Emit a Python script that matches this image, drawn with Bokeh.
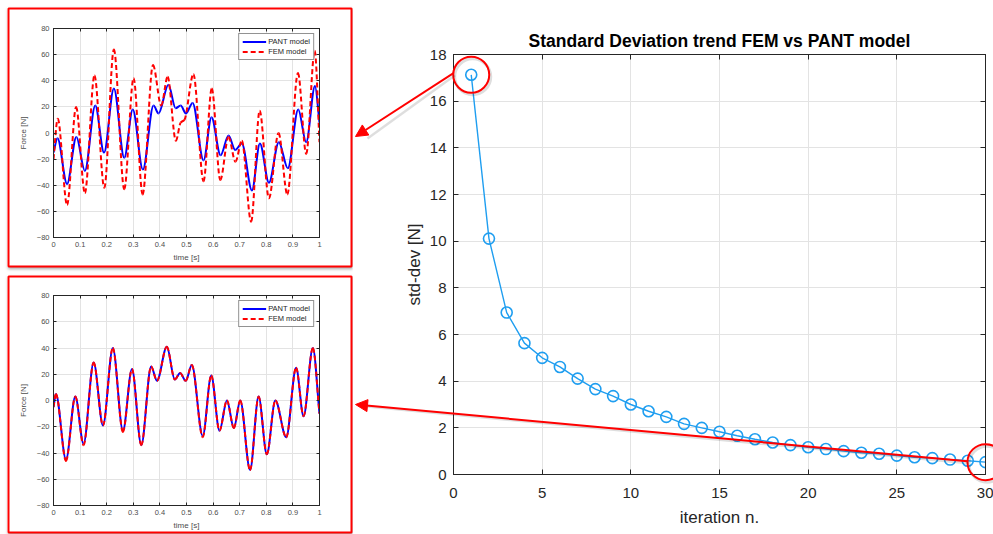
import numpy as np
from bokeh.plotting import figure
from bokeh.models import (LinearAxis, FixedTicker, Range1d, Arrow, NormalHead,
                          ColumnDataSource, Spacer, GridBox)
from bokeh.layouts import row, column
from bokeh.embed import file_html
from bokeh.resources import INLINE

FONT = "Liberation Sans"

# ---------------- data ----------------
iterations = list(range(1, 31))
std_dev = [17.13, 10.11, 6.94, 5.63, 5.00, 4.61, 4.11, 3.66, 3.36, 3.00,
           2.71, 2.47, 2.17, 2.00, 1.83, 1.66, 1.51, 1.37, 1.26, 1.17,
           1.09, 1.00, 0.93, 0.89, 0.81, 0.74, 0.70, 0.64, 0.59, 0.53]
iter_ticks = [0, 5, 10, 15, 20, 25, 30]
std_ticks = [0, 2, 4, 6, 8, 10, 12, 14, 16, 18]

time_ticks = [0.0, 0.1, 0.2, 0.3, 0.4, 0.5, 0.6, 0.7, 0.8, 0.9, 1.0]
time_tick_labels = ["0", "0.1", "0.2", "0.3", "0.4", "0.5", "0.6", "0.7", "0.8", "0.9", "1"]
force_ticks = [-80, -60, -40, -20, 0, 20, 40, 60, 80]

# top panel: turning points
top_t_pant = [0.000, 0.015, 0.051, 0.086, 0.118, 0.157, 0.190, 0.227, 0.266, 0.298,
              0.336, 0.376, 0.395, 0.432, 0.459, 0.478, 0.498, 0.523, 0.564, 0.594,
              0.628, 0.658, 0.683, 0.708, 0.746, 0.776, 0.810, 0.847, 0.881, 0.920,
              0.950, 0.983, 1.000]
top_f_pant = [-15, -4, -39, -3, -29, 21, -15, 34, -19, 18,
              -28, 21, 15, 37, 19, 21, 15, 23, -21, 12,
              -17, -2, -13, -8, -44, -8, -38, -7, -27, 18,
              -7, 36, 8]
top_t_fem = [0.000, 0.016, 0.051, 0.085, 0.118, 0.154, 0.191, 0.227, 0.266, 0.301,
             0.335, 0.374, 0.405, 0.429, 0.460, 0.478, 0.492, 0.526, 0.564, 0.595,
             0.627, 0.658, 0.684, 0.708, 0.743, 0.775, 0.810, 0.846, 0.879, 0.919,
             0.950, 0.982, 1.000]
top_f_fem = [-20, 11, -55, 20, -46, 44, -42, 64, -43, 42,
             -47, 52, 21, 43, -6, 8, 10, 45, -37, 34,
             -36, -3, -22, -6, -68, 17, -50, 0, -47, 46,
             -16, 63, -7]

# bottom panel
bot_t_pant = [0.000, 0.009, 0.047, 0.082, 0.113, 0.151, 0.186, 0.223, 0.261, 0.295,
              0.330, 0.367, 0.389, 0.426, 0.456, 0.476, 0.497, 0.520, 0.561, 0.593,
              0.624, 0.652, 0.678, 0.702, 0.739, 0.771, 0.802, 0.834, 0.875, 0.912,
              0.940, 0.975, 1.000]
bot_f_pant = [-5, 5, -45, 3, -33, 29, -19, 40, -23, 24,
              -34, 26, 15, 41, 16, 21, 15, 27, -27, 19,
              -23, 0, -21, 0, -53, 3, -41, 0, -28, 25,
              -12, 40, -10]
bot_t_fem = [0.000, 0.009, 0.047, 0.082, 0.113, 0.151, 0.186, 0.223, 0.261, 0.295,
             0.330, 0.367, 0.389, 0.426, 0.456, 0.476, 0.497, 0.520, 0.561, 0.593,
             0.624, 0.652, 0.678, 0.702, 0.739, 0.771, 0.802, 0.834, 0.875, 0.912,
             0.940, 0.975, 1.000]
bot_f_fem = [-5, 5, -46, 3, -34, 29, -19, 40, -24, 24,
             -34, 26, 15, 41, 16, 21, 15, 27, -28, 19,
             -23, 0, -21, 0, -53, 3, -41, 0, -28, 25,
             -12, 40, -10]


def smooth_source(t, f):
    """Bezier segments through the read turning points (flat at extrema)."""
    t = np.asarray(t, float)
    f = np.asarray(f, float)
    d = np.diff(f) / np.diff(t)
    m = np.zeros_like(f)
    m[0], m[-1] = d[0], d[-1]
    for i in range(1, len(f) - 1):
        if d[i - 1] * d[i] > 0:
            m[i] = 2.0 / (1.0 / d[i - 1] + 1.0 / d[i])
    h = np.diff(t)
    return ColumnDataSource(dict(x0=t[:-1], y0=f[:-1], x1=t[1:], y1=f[1:],
                                 cx0=t[:-1] + h / 3, cy0=f[:-1] + m[:-1] * h / 3,
                                 cx1=t[1:] - h / 3, cy1=f[1:] - m[1:] * h / 3))


def hidden_label_axis(tks, tick_len):
    return LinearAxis(ticker=FixedTicker(ticks=tks), major_label_text_font_size="0px",
                      major_label_text_color=None, major_tick_in=tick_len, major_tick_out=0,
                      major_label_standoff=0, minor_tick_line_color=None,
                      axis_line_color="#262626", major_tick_line_color="#262626")


def small_panel(height, btop, bbottom, t_p, f_p, t_f, f_f):
    p = figure(width=345, height=height, x_range=Range1d(0, 1), y_range=Range1d(-80, 80),
               output_backend="svg", toolbar_location=None,
               min_border_left=46, min_border_right=33, min_border_top=btop, min_border_bottom=bbottom,
               x_axis_label="time [s]", y_axis_label="Force [N]",
               styles={"box-shadow": "1px 2px 3px rgba(0,0,0,0.35)"})
    p.background_fill_color = "white"
    p.border_fill_color = "white"
    p.outline_line_color = "#262626"
    overrides = {tk: lb for tk, lb in zip(time_ticks, time_tick_labels)}
    for ax, tks in ((p.xaxis[0], time_ticks), (p.yaxis[0], force_ticks)):
        ax.ticker = FixedTicker(ticks=tks)
        ax.major_tick_in = 3
        ax.major_tick_out = 0
        ax.minor_tick_line_color = None
        ax.axis_line_color = "#262626"
        ax.major_tick_line_color = "#262626"
        ax.major_label_text_font = FONT
        ax.major_label_text_font_size = "7.5px"
        ax.major_label_text_color = "#4d4d4d"
        ax.axis_label_text_font = FONT
        ax.axis_label_text_font_size = "8px"
        ax.axis_label_text_font_style = "normal"
        ax.axis_label_text_color = "#4d4d4d"
    p.xaxis[0].major_label_overrides = overrides
    p.xaxis[0].major_label_standoff = 4
    p.xaxis[0].axis_label_standoff = 3
    p.yaxis[0].major_label_standoff = 4
    p.yaxis[0].axis_label_standoff = 6
    p.add_layout(hidden_label_axis(time_ticks, 3), "above")
    p.add_layout(hidden_label_axis(force_ticks, 3), "right")
    p.xgrid.ticker = FixedTicker(ticks=time_ticks)
    p.ygrid.ticker = FixedTicker(ticks=force_ticks)
    p.xgrid.grid_line_color = "#e3e3e3"
    p.ygrid.grid_line_color = "#e3e3e3"
    cols = dict(x0="x0", y0="y0", x1="x1", y1="y1", cx0="cx0", cy0="cy0", cx1="cx1", cy1="cy1")
    p.bezier(source=smooth_source(t_p, f_p), line_color="#0000ff", line_width=2,
             legend_label="PANT model", **cols)
    p.bezier(source=smooth_source(t_f, f_f), line_color="#ff0000", line_width=2,
             line_dash="5 3", legend_label="FEM model", **cols)
    lg = p.legend[0]
    lg.location = "top_right"
    lg.margin = 5
    lg.padding = 3
    lg.spacing = 1
    lg.glyph_width = 24
    lg.glyph_height = 9
    lg.label_height = 9
    lg.label_standoff = 2
    lg.label_text_font = FONT
    lg.label_text_font_size = "7.5px"
    lg.label_text_color = "#262626"
    lg.border_line_color = "#262626"
    lg.border_line_width = 1
    lg.background_fill_alpha = 1
    return p


top = small_panel(260, 21, 30, top_t_pant, top_f_pant, top_t_fem, top_f_fem)
bottom = small_panel(258, 20, 28, bot_t_pant, bot_f_pant, bot_t_fem, bot_f_fem)

# ---------------- main chart ----------------
MAIN_X0, MAIN_W, MAIN_H = 352, 641, 534
B_LEFT, B_RIGHT, B_TOP, B_BOTTOM = 101, 8, 54, 60
main = figure(width=MAIN_W, height=MAIN_H, x_range=Range1d(0, 30), y_range=Range1d(0, 18),
              output_backend="svg", toolbar_location=None,
              min_border_left=B_LEFT, min_border_right=B_RIGHT,
              min_border_top=B_TOP, min_border_bottom=B_BOTTOM,
              x_axis_label="iteration n.", y_axis_label="std-dev [N]",
              title="Standard Deviation trend FEM vs PANT model")
main.title.align = "center"
main.title.text_font = FONT
main.title.text_font_size = "17.5px"
main.title.text_font_style = "bold"
main.title.text_color = "#000000"
main.title.standoff = 7
main.background_fill_color = "white"
main.border_fill_color = "white"
main.outline_line_color = "#262626"

for ax, tks in ((main.xaxis[0], iter_ticks), (main.yaxis[0], std_ticks)):
    ax.ticker = FixedTicker(ticks=tks)
    ax.major_tick_in = 5
    ax.major_tick_out = 0
    ax.minor_tick_line_color = None
    ax.axis_line_color = "#262626"
    ax.major_tick_line_color = "#262626"
    ax.major_label_text_font = FONT
    ax.major_label_text_font_size = "15px"
    ax.major_label_text_color = "#262626"
    ax.axis_label_text_font = FONT
    ax.axis_label_text_font_size = "17px"
    ax.axis_label_text_font_style = "normal"
    ax.axis_label_text_color = "#262626"
main.xaxis[0].major_label_standoff = 13
main.xaxis[0].axis_label_standoff = 7
main.yaxis[0].major_label_standoff = 7
main.yaxis[0].axis_label_standoff = 3
main.add_layout(hidden_label_axis(iter_ticks, 5), "above")
main.add_layout(hidden_label_axis(std_ticks, 5), "right")
main.xgrid.ticker = FixedTicker(ticks=iter_ticks)
main.ygrid.ticker = FixedTicker(ticks=std_ticks)
main.xgrid.grid_line_color = "#e3e3e3"
main.ygrid.grid_line_color = "#e3e3e3"

BLUE = "#1f9ef0"
main.line(iterations, std_dev, line_color=BLUE, line_width=1.4)
main.scatter(iterations, std_dev, marker="circle", size=11, fill_color=None,
             line_color=BLUE, line_width=1.6)

base = row(Spacer(width=7),
           column(Spacer(height=7), top, Spacer(height=8), bottom),
           main)

# ---------------- transparent overlay for the callouts ----------------
# Its data space is aligned with the main chart, so the callouts sit on the real points.
PAGE_W, PAGE_H = 993, 534
FX0 = MAIN_X0 + B_LEFT                 # page x of iteration 0
FX1 = MAIN_X0 + MAIN_W - B_RIGHT       # page x of iteration 30
FY0 = MAIN_H - B_BOTTOM                # page y of std 0
FY1 = B_TOP                            # page y of std 18
KX = 30 / (FX1 - FX0)
KY = 18 / (FY0 - FY1)


def X(px):
    return (px - FX0) * KX


def Y(py):
    return (FY0 - py) * KY


ov = figure(width=PAGE_W, height=PAGE_H, x_range=Range1d(X(0), X(PAGE_W)),
            y_range=Range1d(Y(PAGE_H), Y(0)), output_backend="svg", toolbar_location=None,
            x_axis_type=None, y_axis_type=None, min_border=0)
ov.background_fill_color = None
ov.border_fill_color = None
ov.outline_line_color = None
ov.grid.visible = False

# red boxes round the two panels (with soft shadows from CSS)
box_px = [(8, 351, 8, 266), (8, 351, 276, 532)]
ov.quad(left=[X(b[0]) for b in box_px], right=[X(b[1]) for b in box_px],
        top=[Y(b[2]) for b in box_px], bottom=[Y(b[3]) for b in box_px],
        fill_alpha=0, line_color="#ff0000", line_width=2)

# circles around the first and last iteration
hx = [iterations[0], iterations[-1]]
hy = [std_dev[0], std_dev[-1]]
ov.scatter([x + 1.5 * KX for x in hx], [y - 2 * KY for y in hy], marker="circle", size=36,
           fill_color=None, line_color="#000000", line_alpha=0.13, line_width=3)
ov.scatter(hx, hy, marker="circle", size=36, fill_color=None,
           line_color="#ff0000", line_width=2)

# arrows from the circles to the panels (page pixels of start / tip)
arrow_px = [((453, 72.7), (355, 136)), ((966.7, 460.7), (355, 404))]
ov.segment(x0=[X(a[0][0] + 1.5) for a in arrow_px], y0=[Y(a[0][1] + 2) for a in arrow_px],
           x1=[X(a[1][0] + 12) for a in arrow_px], y1=[Y(a[1][1] + 2) for a in arrow_px],
           line_color="#000000", line_alpha=0.13, line_width=2.5)
for (sx, sy), (ex, ey) in arrow_px:
    ov.add_layout(Arrow(x_start=X(sx), y_start=Y(sy), x_end=X(ex), y_end=Y(ey),
                        line_color="#ff0000", line_width=2,
                        end=NormalHead(size=12, fill_color="#ff0000", line_color="#ff0000",
                                       line_width=1)))

page = GridBox(children=[(base, 0, 0), (ov, 0, 0)])

open("out.html", "w").write(file_html(page, INLINE))
